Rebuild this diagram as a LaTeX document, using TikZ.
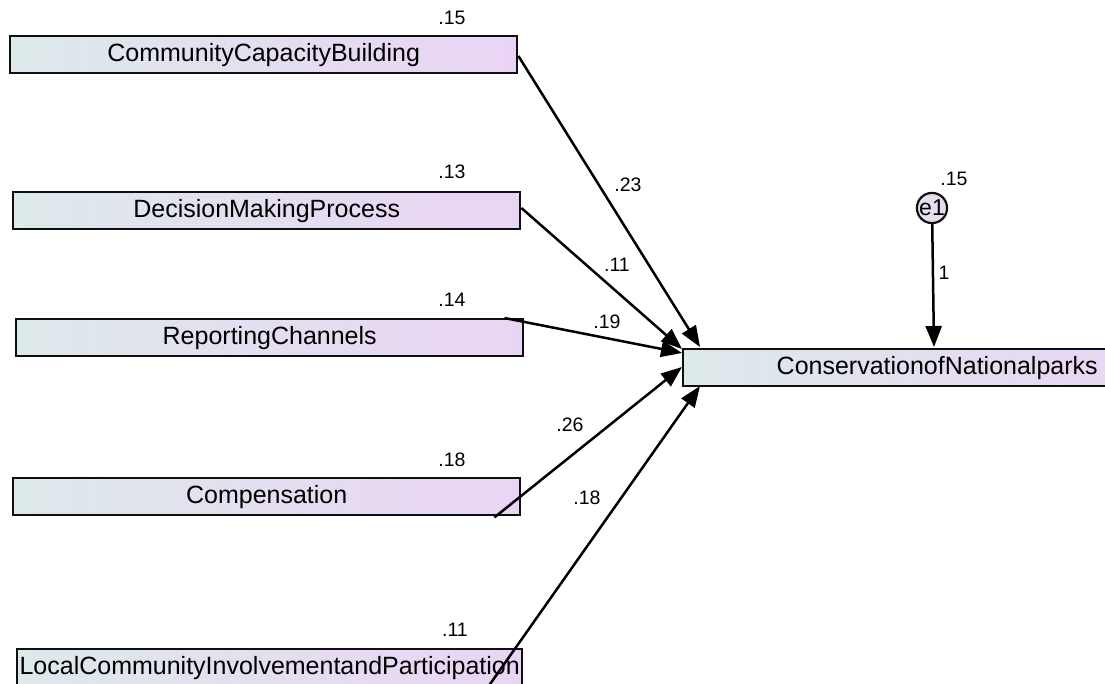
\documentclass[tikz,border=0pt]{standalone}
\usepackage{fontspec}
\setmainfont{Liberation Sans}
\usetikzlibrary{arrows.meta,calc}
\definecolor{boxl}{RGB}{221,233,234}
\definecolor{boxr}{RGB}{234,212,245}
\definecolor{edge}{RGB}{15,15,15}
\begin{document}
\begin{tikzpicture}[x=1pt,y=-1pt,
  var/.style={draw=edge, line width=2.4pt, left color=boxl, right color=boxr,
    minimum width=507pt, minimum height=37pt, inner sep=0pt, anchor=north west,
    font=\fontsize{25}{29}\selectfont},
  err/.style={circle, draw=edge, line width=2.2pt, left color=boxl, right color=boxr,
    minimum size=23pt, inner sep=0pt, font=\fontsize{23}{25}\selectfont},
  reg/.style={line width=2.5pt, draw=black, -{Triangle[length=21pt,width=16pt]}},
  coef/.style={font=\fontsize{19.5}{22}\selectfont, inner sep=0pt}]
\clip (0,0) rectangle (1105,684);
\fill[white] (0,0) rectangle (1105,684);

% observed predictors
\node[var] (ccb) at (9,35)   {CommunityCapacityBuilding};
\node[var] (dmp) at (12,191) {DecisionMakingProcess};
\node[var] (rc)  at (15,318) {ReportingChannels};
\node[var] (cmp) at (12,477) {Compensation};
\node[var, minimum width=505pt] (lci) at (16,648) {LocalCommunityInvolvementandParticipation};

% outcome and its error term
\node[var, minimum width=508pt] (cnp) at (682,348) {ConservationofNationalparks};
\node[err] (e1) at (932,208) {e1};

% squared multiple correlations
\node[coef] (r1) at (452,18)  {.15};
\node[coef] (r2) at (452,172) {.13};
\node[coef] (r3) at (452,300) {.14};
\node[coef] (r4) at (452,460) {.18};
\node[coef] (r5) at (455,630) {.11};
\node[coef] (r6) at (954,179) {.15};

% path end points
\coordinate (s1) at ($(ccb.north east)+(0,21)$);
\coordinate (s2) at ($(dmp.north east)+(0,17)$);
\coordinate (s3) at ($(rc.north east)+(-20,0)$);
\coordinate (s4) at ($(cmp.south east)+(-27,1)$);
\coordinate (s5) at ($(lci.north east)+(-34,37)$);
\coordinate (t1) at ($(cnp.north west)+(18,-1)$);
\coordinate (t2) at ($(cnp.north west)+(0,1)$);
\coordinate (t3) at ($(cnp.north west)+(0,5)$);
\coordinate (t4) at ($(cnp.north west)+(0,19)$);
\coordinate (t5) at ($(cnp.north west)+(18,38)$);
\coordinate (t6) at ($(cnp.north west)+(252,-1)$);

% regression paths
\draw[reg] (s1) -- (t1);
\draw[reg] (s2) -- (t2);
\draw[reg] (s3) -- (t3);
\draw[reg] (s4) -- (t4);
\draw[reg] (s5) -- (t5);
\draw[reg] (e1) -- (t6);

% path coefficients
\node[coef] (p1) at (628,185) {.23};
\node[coef] (p2) at (617,265) {.11};
\node[coef] (p3) at (607,322) {.19};
\node[coef] (p4) at (570,425) {.26};
\node[coef] (p5) at (587,498) {.18};
\node[coef] (p6) at (944,273) {1};
\end{tikzpicture}
\end{document}
